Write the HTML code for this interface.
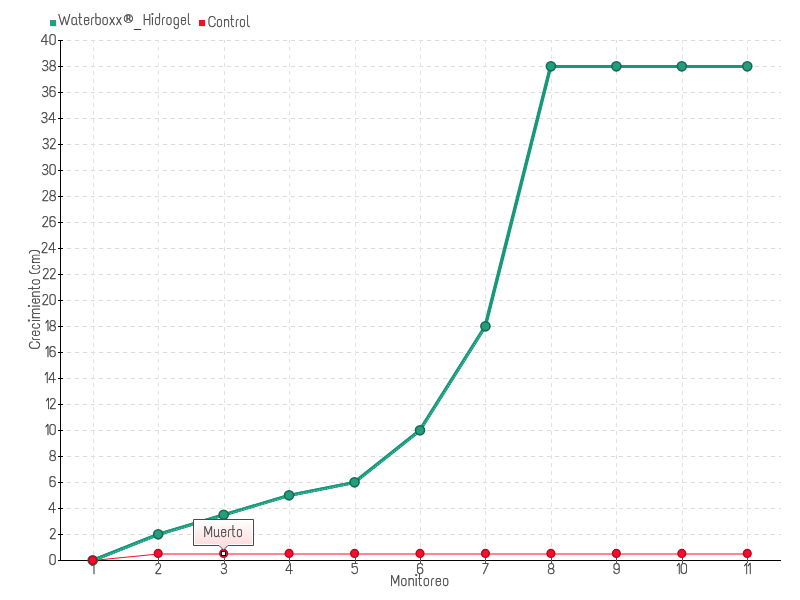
<!DOCTYPE html><html><head><meta charset="utf-8"><title>Crecimiento</title><style>html,body{margin:0;padding:0;background:#fff;width:800px;height:600px;overflow:hidden}svg{display:block;will-change:transform}text{font-family:"Text Me One", "Liberation Sans", sans-serif;font-size:15.3px;fill:#3c3c3c;stroke:#3c3c3c;stroke-width:.25px}</style></head><body>
<svg width="800" height="600" viewBox="0 0 800 600">
<defs><linearGradient id="tg" x1="0" y1="0" x2="0" y2="1"><stop offset="0" stop-color="#ffffff"/><stop offset="1" stop-color="#fcd6d7"/></linearGradient></defs>
<path d="M67 40.5H781M67 66.5H781M67 92.5H781M67 118.5H781M67 144.5H781M67 170.5H781M67 196.5H781M67 222.5H781M67 248.5H781M67 274.5H781M67 300.5H781M67 326.5H781M67 352.5H781M67 378.5H781M67 404.5H781M67 430.5H781M67 456.5H781M67 482.5H781M67 508.5H781M67 534.5H781" stroke="#dcdcdc" stroke-width="1" stroke-dasharray="4 4" fill="none"/>
<path d="M93.5 40V560M158.5 40V560M224.5 40V560M289.5 40V560M355.5 40V560M420.5 40V560M485.5 40V560M551.5 40V560M616.5 40V560M682.5 40V560M747.5 40V560" stroke="#e3e3e3" stroke-width="1" stroke-dasharray="4 4" stroke-dashoffset="1" fill="none"/>
<path d="M60.5 40V561M58 560.5H781" stroke="#000" stroke-width="1" fill="none"/>
<path d="M58 40.5H63M58 66.5H63M58 92.5H63M58 118.5H63M58 144.5H63M58 170.5H63M58 196.5H63M58 222.5H63M58 248.5H63M58 274.5H63M58 300.5H63M58 326.5H63M58 352.5H63M58 378.5H63M58 404.5H63M58 430.5H63M58 456.5H63M58 482.5H63M58 508.5H63M58 534.5H63M58 560.5H63" stroke="#000" stroke-width="1" fill="none"/>
<path d="M93.5 558V563M158.5 558V563M224.5 558V563M289.5 558V563M355.5 558V563M420.5 558V563M485.5 558V563M551.5 558V563M616.5 558V563M682.5 558V563M747.5 558V563" stroke="#555" stroke-width="1" fill="none"/>
<text x="52.70" y="565.10" text-anchor="middle">0</text>
<text x="52.82" y="539.10" text-anchor="middle">2</text>
<text x="52.20" y="513.10" text-anchor="middle">4</text>
<text x="52.70" y="487.10" text-anchor="middle">6</text>
<text x="52.70" y="461.10" text-anchor="middle">8</text>
<text transform="translate(47.44,435.10) scale(0.65,1)" text-anchor="middle" style="stroke-width:.55px">1</text>
<text x="52.70" y="435.10" text-anchor="middle">0</text>
<text transform="translate(47.93,409.10) scale(0.65,1)" text-anchor="middle" style="stroke-width:.55px">1</text>
<text x="52.82" y="409.10" text-anchor="middle">2</text>
<text transform="translate(46.57,383.10) scale(0.65,1)" text-anchor="middle" style="stroke-width:.55px">1</text>
<text x="52.20" y="383.10" text-anchor="middle">4</text>
<text transform="translate(47.44,357.10) scale(0.65,1)" text-anchor="middle" style="stroke-width:.55px">1</text>
<text x="52.70" y="357.10" text-anchor="middle">6</text>
<text transform="translate(47.31,331.10) scale(0.65,1)" text-anchor="middle" style="stroke-width:.55px">1</text>
<text x="52.70" y="331.10" text-anchor="middle">8</text>
<text x="45.37" y="305.10" text-anchor="middle">2</text>
<text x="52.70" y="305.10" text-anchor="middle">0</text>
<text x="45.86" y="279.10" text-anchor="middle">2</text>
<text x="52.82" y="279.10" text-anchor="middle">2</text>
<text x="44.50" y="253.10" text-anchor="middle">2</text>
<text x="52.20" y="253.10" text-anchor="middle">4</text>
<text x="45.37" y="227.10" text-anchor="middle">2</text>
<text x="52.70" y="227.10" text-anchor="middle">6</text>
<text x="45.24" y="201.10" text-anchor="middle">2</text>
<text x="52.70" y="201.10" text-anchor="middle">8</text>
<text x="45.37" y="175.10" text-anchor="middle">3</text>
<text x="52.70" y="175.10" text-anchor="middle">0</text>
<text x="45.86" y="149.10" text-anchor="middle">3</text>
<text x="52.82" y="149.10" text-anchor="middle">2</text>
<text x="44.50" y="123.10" text-anchor="middle">3</text>
<text x="52.20" y="123.10" text-anchor="middle">4</text>
<text x="45.37" y="97.10" text-anchor="middle">3</text>
<text x="52.70" y="97.10" text-anchor="middle">6</text>
<text x="45.24" y="71.10" text-anchor="middle">3</text>
<text x="52.70" y="71.10" text-anchor="middle">8</text>
<text x="44.75" y="45.10" text-anchor="middle">4</text>
<text x="52.70" y="45.10" text-anchor="middle">0</text>
<text transform="translate(93.33,573.90) scale(0.65,1)" text-anchor="middle" style="stroke-width:.55px">1</text>
<text x="158.38" y="573.90" text-anchor="middle">2</text>
<text x="224.02" y="573.90" text-anchor="middle">3</text>
<text x="289.35" y="573.90" text-anchor="middle">4</text>
<text x="354.87" y="573.90" text-anchor="middle">5</text>
<text x="420.32" y="573.90" text-anchor="middle">6</text>
<text x="485.53" y="573.90" text-anchor="middle">7</text>
<text x="551.30" y="573.90" text-anchor="middle">8</text>
<text x="616.62" y="573.90" text-anchor="middle">9</text>
<text transform="translate(678.70,573.90) scale(0.65,1)" text-anchor="middle" style="stroke-width:.55px">1</text>
<text x="683.96" y="573.90" text-anchor="middle">0</text>
<text transform="translate(746.06,573.90) scale(0.65,1)" text-anchor="middle" style="stroke-width:.55px">1</text>
<text transform="translate(749.70,573.90) scale(0.65,1)" text-anchor="middle" style="stroke-width:.55px">1</text>
<text x="390.5" y="586" textLength="59" lengthAdjust="spacingAndGlyphs">Monitoreo</text>
<g transform="translate(39.6,0) rotate(-90)"><text x="-349.2" y="0" textLength="71.2" lengthAdjust="spacingAndGlyphs">Crecimiento</text><text x="-274.4" y="0" textLength="25" lengthAdjust="spacingAndGlyphs">(cm)</text></g>
<rect x="51" y="21" width="6" height="6" fill="#ece4e4"/><rect x="50" y="20" width="6" height="6" fill="#1fa083"/>
<text x="58.8" y="24.6" textLength="63.5" lengthAdjust="spacingAndGlyphs">Waterboxx</text>
<text x="122.2" y="23.1" style="fill:#333;font-size:12.3px;font-family:&quot;DejaVu Sans&quot;,sans-serif">®</text>
<text x="133.3" y="29.6" textLength="8.6" lengthAdjust="spacingAndGlyphs">_</text>
<text x="143.3" y="24.6" textLength="48" lengthAdjust="spacingAndGlyphs">Hidrogel</text>
<rect x="200" y="21" width="6" height="6" fill="#e6e8e8"/><rect x="199" y="20" width="6" height="6" fill="#f0102a"/>
<text x="208" y="26.5" textLength="42.5" lengthAdjust="spacingAndGlyphs">Control</text>
<polyline points="92.73,560.50 158.18,554.00 223.64,554.00 289.09,554.00 354.55,554.00 420.00,554.00 485.45,554.00 550.91,554.00 616.36,554.00 681.82,554.00 747.27,554.00" fill="none" stroke="#ff0a28" stroke-width="1"/>
<polyline points="92.73,560.50 158.18,534.50 223.64,515.00 289.09,495.50 354.55,482.50 420.00,430.50 485.45,326.50 550.91,66.50 616.36,66.50 681.82,66.50 747.27,66.50" fill="none" stroke="#16987b" stroke-width="3" stroke-linejoin="round"/>
<polyline points="92.13,560.50 157.58,534.50 223.04,515.00 288.49,495.50 353.95,482.50 419.40,430.50 484.85,326.50 550.31,66.50" fill="none" stroke="#16987b" stroke-width="3" stroke-linejoin="round"/>
<polyline points="92.73,561.00 158.18,535.00 223.64,515.50 289.09,496.00 354.55,483.00 420.00,431.00 485.45,327.00" fill="none" stroke="#8fd3c0" stroke-width="0.8" stroke-dasharray="1.2 1.5"/>
<circle cx="92.73" cy="560.30" r="4.55" fill="#229d7d" stroke="#156a50" stroke-width="1.6"/>
<circle cx="158.18" cy="534.30" r="4.55" fill="#229d7d" stroke="#156a50" stroke-width="1.6"/>
<circle cx="223.64" cy="514.80" r="4.55" fill="#229d7d" stroke="#156a50" stroke-width="1.6"/>
<circle cx="289.09" cy="495.30" r="4.55" fill="#229d7d" stroke="#156a50" stroke-width="1.6"/>
<circle cx="354.55" cy="482.30" r="4.55" fill="#229d7d" stroke="#156a50" stroke-width="1.6"/>
<circle cx="420.00" cy="430.30" r="4.55" fill="#229d7d" stroke="#156a50" stroke-width="1.6"/>
<circle cx="485.45" cy="326.30" r="4.55" fill="#229d7d" stroke="#156a50" stroke-width="1.6"/>
<circle cx="550.91" cy="66.30" r="4.55" fill="#229d7d" stroke="#156a50" stroke-width="1.6"/>
<circle cx="616.36" cy="66.30" r="4.55" fill="#229d7d" stroke="#156a50" stroke-width="1.6"/>
<circle cx="681.82" cy="66.30" r="4.55" fill="#229d7d" stroke="#156a50" stroke-width="1.6"/>
<circle cx="747.27" cy="66.30" r="4.55" fill="#229d7d" stroke="#156a50" stroke-width="1.6"/>
<circle cx="92.73" cy="560.30" r="3.85" fill="#ff0a2c" stroke="#b50c1f" stroke-width="1.5"/>
<circle cx="158.18" cy="553.40" r="3.85" fill="#ff0a2c" stroke="#b50c1f" stroke-width="1.5"/>
<circle cx="223.64" cy="553.40" r="3.85" fill="#ff0a2c" stroke="#b50c1f" stroke-width="1.5"/>
<circle cx="289.09" cy="553.40" r="3.85" fill="#ff0a2c" stroke="#b50c1f" stroke-width="1.5"/>
<circle cx="354.55" cy="553.40" r="3.85" fill="#ff0a2c" stroke="#b50c1f" stroke-width="1.5"/>
<circle cx="420.00" cy="553.40" r="3.85" fill="#ff0a2c" stroke="#b50c1f" stroke-width="1.5"/>
<circle cx="485.45" cy="553.40" r="3.85" fill="#ff0a2c" stroke="#b50c1f" stroke-width="1.5"/>
<circle cx="550.91" cy="553.40" r="3.85" fill="#ff0a2c" stroke="#b50c1f" stroke-width="1.5"/>
<circle cx="616.36" cy="553.40" r="3.85" fill="#ff0a2c" stroke="#b50c1f" stroke-width="1.5"/>
<circle cx="681.82" cy="553.40" r="3.85" fill="#ff0a2c" stroke="#b50c1f" stroke-width="1.5"/>
<circle cx="747.27" cy="553.40" r="3.85" fill="#ff0a2c" stroke="#b50c1f" stroke-width="1.5"/>
<rect x="221.5" y="551.5" width="4" height="4" fill="#fff" stroke="#000" stroke-width="1"/>
<path d="M193.5 519.5H253.5V545.5H228L223.5 550L219 545.5H193.5Z" fill="url(#tg)" stroke="#4a4a4a" stroke-width="1"/>
<path d="M219.5 544.5H194.5V520.5H252.5V544.5H227.5" fill="none" stroke="#fff" stroke-width="1"/>
<text x="203.8" y="537" textLength="39.5" lengthAdjust="spacingAndGlyphs">Muerto</text>
</svg></body></html>
